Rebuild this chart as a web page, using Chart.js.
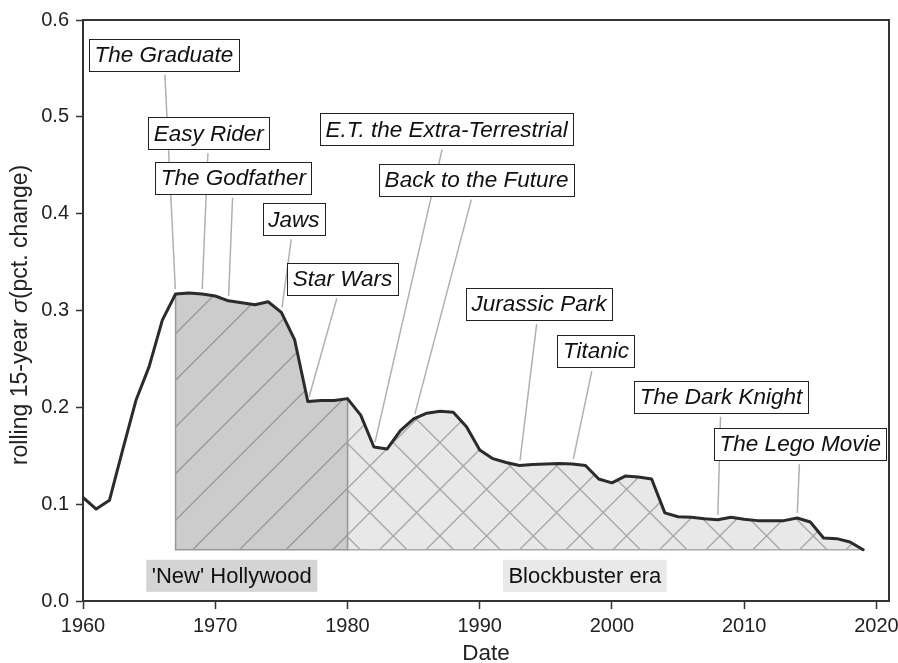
<!DOCTYPE html>
<html>
<head>
<meta charset="utf-8">
<script src="https://cdn.jsdelivr.net/npm/chart.js@4.4.1/dist/chart.umd.min.js"></script>
<style>
  body { margin: 0; background: #fff; }
  #wrap { width: 898px; height: 663px; position: relative; }
</style>
</head>
<body>
<div id="wrap"><canvas id="chart"></canvas></div>
<script>
const years = [1960, 1961, 1962, 1963, 1964, 1965, 1966, 1967, 1968, 1969,
  1970, 1971, 1972, 1973, 1974, 1975, 1976, 1977, 1978, 1979,
  1980, 1981, 1982, 1983, 1984, 1985, 1986, 1987, 1988, 1989,
  1990, 1991, 1992, 1993, 1994, 1995, 1996, 1997, 1998, 1999,
  2000, 2001, 2002, 2003, 2004, 2005, 2006, 2007, 2008, 2009,
  2010, 2011, 2012, 2013, 2014, 2015, 2016, 2017, 2018, 2019];
const sigma = [0.107, 0.095, 0.104, 0.156, 0.207, 0.242, 0.290, 0.317, 0.318, 0.317,
  0.315, 0.310, 0.308, 0.306, 0.309, 0.298, 0.270, 0.206, 0.207, 0.207,
  0.209, 0.192, 0.159, 0.157, 0.176, 0.188, 0.194, 0.196, 0.195, 0.180,
  0.156, 0.147, 0.143, 0.140, 0.141, 0.1415, 0.142, 0.1415, 0.140, 0.126,
  0.122, 0.129, 0.128, 0.126, 0.091, 0.087, 0.0865, 0.085, 0.084, 0.0865,
  0.0845, 0.083, 0.083, 0.083, 0.0857, 0.0816, 0.065, 0.0644, 0.061, 0.053];

const xTicks = [1960, 1970, 1980, 1990, 2000, 2010, 2020];
const yTicks = [0, 0.1, 0.2, 0.3, 0.4, 0.5, 0.6];

// eras shaded under the curve
const eraNames = ["'New' Hollywood", "Blockbuster era"];
const eraStart = [1967, 1980];
const eraEnd = [1980, 2019];
const eraLabelX = [1971.25, 1997.95];
const eraLabelY = [0.026, 0.026];

// film annotations: label centre in data units, arrow to the film year
const films = ['The Graduate', 'Easy Rider', 'The Godfather', 'Jaws', 'Star Wars',
  'E.T. the Extra-Terrestrial', 'Back to the Future', 'Jurassic Park', 'Titanic',
  'The Dark Knight', 'The Lego Movie'];
const filmYears = [1967, 1969, 1971, 1975, 1977, 1982, 1985, 1993, 1997, 2008, 2014];
const filmLabelX = [1966.12, 1969.51, 1971.37, 1975.95, 1979.62, 1987.50, 1989.76, 1994.49, 1998.79, 2008.25, 2014.24];
const filmLabelY = [0.564, 0.483, 0.437, 0.394, 0.333, 0.487, 0.435, 0.3065, 0.258, 0.211, 0.162];

const FONT = '"Liberation Sans", Arial, sans-serif';
const baseline = sigma[sigma.length - 1];

// hatch tile holding three periods of the pattern
function makeHatch(ctx, bg, lineColor, cross) {
  const T = 140;
  const step = T / 3;
  const c = document.createElement('canvas');
  c.width = T;
  c.height = T;
  const g = c.getContext('2d');
  g.fillStyle = bg;
  g.fillRect(0, 0, T, T);
  g.strokeStyle = lineColor;
  g.lineWidth = 1.4;
  g.beginPath();
  for (let k = -6; k <= 9; k++) {
    const s = 42.5 + k * step;
    g.moveTo(s - 2 * T, 2 * T);
    g.lineTo(s + 2 * T, -2 * T);
    if (cross) {
      const d = 44 + k * step;
      g.moveTo(d - 2 * T, -2 * T);
      g.lineTo(d + 2 * T, 2 * T);
    }
  }
  g.stroke();
  return ctx.createPattern(c, 'repeat');
}

function valueAt(year) {
  return sigma[years.indexOf(year)];
}

const canvas = document.getElementById('chart');
const ctx = canvas.getContext('2d');
const eraFills = [
  makeHatch(ctx, '#cccccc', '#9a9a9a', false),
  makeHatch(ctx, '#e8e8e8', '#a9a9a9', true)
];
const eraEdges = ['#999999', '#aaaaaa'];
const eraLabelBg = ['#d4d4d4', '#e9e9e9'];

function eraDataset(e) {
  const pts = [];
  years.forEach((y, i) => {
    if (y >= eraStart[e] && y <= eraEnd[e]) pts.push({ x: y, y: sigma[i] });
  });
  return {
    label: eraNames[e],
    data: pts,
    borderWidth: 0,
    borderColor: 'rgba(0,0,0,0)',
    backgroundColor: eraFills[e],
    pointRadius: 0,
    tension: 0,
    fill: { value: baseline }
  };
}

const overlay = {
  id: 'overlay',
  afterDatasetDraw(chart, args) {
    if (args.index === 0) return;
    const e = args.index - 1;
    const xs = chart.scales.x, ys = chart.scales.y;
    const c = chart.ctx;
    const x0 = xs.getPixelForValue(eraStart[e]);
    const x1 = xs.getPixelForValue(eraEnd[e]);
    const yb = ys.getPixelForValue(baseline);
    c.save();
    c.strokeStyle = eraEdges[e];
    c.lineWidth = 1.5;
    c.beginPath();
    c.moveTo(x0, ys.getPixelForValue(valueAt(eraStart[e])));
    c.lineTo(x0, yb);
    c.lineTo(x1, yb);
    c.lineTo(x1, ys.getPixelForValue(valueAt(eraEnd[e])));
    c.stroke();
    c.restore();
  },
  afterDraw(chart) {
    const xs = chart.scales.x, ys = chart.scales.y;
    const a = chart.chartArea;
    const c = chart.ctx;
    c.save();

    // top and right spines
    c.strokeStyle = '#333';
    c.lineWidth = 2;
    c.beginPath();
    c.moveTo(a.left, a.top);
    c.lineTo(a.right, a.top);
    c.lineTo(a.right, a.bottom);
    c.stroke();

    // era labels
    c.font = '22px ' + FONT;
    c.textAlign = 'center';
    c.textBaseline = 'middle';
    eraNames.forEach((name, e) => {
      const cx = xs.getPixelForValue(eraLabelX[e]);
      const cy = ys.getPixelForValue(eraLabelY[e]);
      const w = c.measureText(name).width + 11;
      c.fillStyle = eraLabelBg[e];
      c.fillRect(cx - w / 2, cy - 16, w, 32);
      c.fillStyle = '#111';
      c.fillText(name, cx, cy + 1);
    });

    // film annotations: connectors first, then boxes on top
    c.font = 'italic 22.5px ' + FONT;
    const boxes = films.map((name, i) => {
      const cx = xs.getPixelForValue(filmLabelX[i]);
      const cy = ys.getPixelForValue(filmLabelY[i]);
      const w = c.measureText(name).width + 11;
      return { name, cx, cy, w, h: 32 };
    });
    c.strokeStyle = '#b0b0b0';
    c.lineWidth = 1.5;
    boxes.forEach((b, i) => {
      const tx = xs.getPixelForValue(filmYears[i]);
      const ty = ys.getPixelForValue(valueAt(filmYears[i]));
      const dx = tx - b.cx, dy = ty - b.cy;
      const len = Math.hypot(dx, dy);
      const ux = dx / len, uy = dy / len;
      // leave the box through its bottom edge
      const tEdge = Math.min((b.h / 2) / Math.abs(uy), (b.w / 2) / Math.abs(ux || 1e-9));
      const s0 = tEdge + 4;
      const s1 = len - 5;
      c.beginPath();
      c.moveTo(b.cx + ux * s0, b.cy + uy * s0);
      c.lineTo(b.cx + ux * s1, b.cy + uy * s1);
      c.stroke();
    });
    boxes.forEach(b => {
      const x = Math.round(b.cx - b.w / 2) + 0.5;
      const y = Math.round(b.cy - b.h / 2) + 0.5;
      c.fillStyle = '#fff';
      c.fillRect(x, y, Math.round(b.w), b.h);
      c.strokeStyle = '#222';
      c.lineWidth = 1;
      c.strokeRect(x, y, Math.round(b.w), b.h);
      c.fillStyle = '#111';
      c.fillText(b.name, b.cx, b.cy + 1);
    });

    // axis titles
    c.fillStyle = '#222';
    c.font = '22.5px ' + FONT;
    c.fillText('Date', (a.left + a.right) / 2, 654);

    const parts = [
      { t: 'rolling 15-year ', f: '23px ' + FONT },
      { t: 'σ', f: 'italic 23px ' + FONT },
      { t: '(pct. change)', f: '23px ' + FONT }
    ];
    let total = 0;
    parts.forEach(p => { c.font = p.f; p.w = c.measureText(p.t).width; total += p.w; });
    c.translate(20.5, 315);
    c.rotate(-Math.PI / 2);
    c.textAlign = 'left';
    let px = -total / 2;
    parts.forEach(p => { c.font = p.f; c.fillText(p.t, px, 0); px += p.w; });
    c.restore();
  }
};

new Chart(ctx, {
  type: 'line',
  data: {
    datasets: [
      {
        label: 'rolling sigma',
        data: years.map((y, i) => ({ x: y, y: sigma[i] })),
        borderColor: '#2b2b2b',
        borderWidth: 3,
        borderJoinStyle: 'round',
        borderCapStyle: 'round',
        pointRadius: 0,
        tension: 0,
        fill: false
      },
      eraDataset(0),
      eraDataset(1)
    ]
  },
  options: {
    responsive: true,
    maintainAspectRatio: false,
    animation: false,
    events: [],
    layout: { padding: { top: 20, right: 9, left: 0, bottom: 0 } },
    plugins: { legend: { display: false }, tooltip: { enabled: false } },
    scales: {
      x: {
        type: 'linear',
        min: 1960,
        max: 2020.95,
        afterBuildTicks: s => { s.ticks = xTicks.map(v => ({ value: v })); },
        afterFit: s => { s.height = 62; s.paddingLeft = 0; s.paddingRight = 0; },
        ticks: { color: '#222', font: { family: FONT, size: 20 }, padding: 5, maxRotation: 0, callback: v => String(v) },
        grid: { drawOnChartArea: false, drawTicks: true, tickLength: 8, tickColor: '#333', tickWidth: 1.5 },
        border: { display: true, color: '#333', width: 2 }
      },
      y: {
        min: 0,
        max: 0.6,
        afterBuildTicks: s => { s.ticks = yTicks.map(v => ({ value: v })); },
        afterFit: s => { s.width = 83; s.paddingTop = 0; s.paddingBottom = 0; },
        ticks: { color: '#222', font: { family: FONT, size: 20 }, padding: 7, callback: v => v.toFixed(1) },
        grid: { drawOnChartArea: false, drawTicks: true, tickLength: 7, tickColor: '#333', tickWidth: 1.5 },
        border: { display: true, color: '#333', width: 2 }
      }
    }
  },
  plugins: [overlay]
});
</script>
</body>
</html>
